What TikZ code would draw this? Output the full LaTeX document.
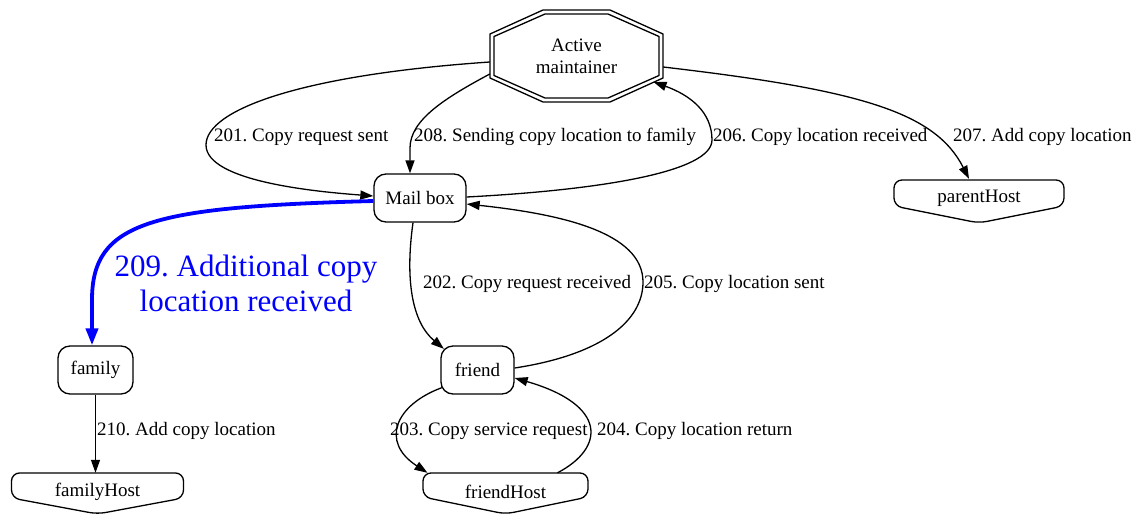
\documentclass[tikz,border=0pt]{standalone}
\usepackage{fontspec}
\setmainfont{Liberation Serif}
\usetikzlibrary{arrows.meta}
\begin{document}
\frenchspacing
\begin{tikzpicture}[x=1pt,y=-1pt,
  every node/.style={font=\fontsize{19}{22}\selectfont},
  box/.style={draw,line width=1.3pt,rounded corners=12pt,minimum height=48pt,inner sep=0pt},
  hosttext/.style={inner sep=0pt,minimum height=38pt},
  lbl/.style={anchor=west,inner sep=0pt},
  edge/.style={line width=1.3pt,-{Triangle[length=13pt,width=9pt]}},
  bedge/.style={draw=blue,line width=3.8pt,-{Triangle[length=17pt,width=12pt]}},
  shapeln/.style={line width=1.3pt,rounded corners=8pt}]
\useasboundingbox (0,0) rectangle (1138,514);

% nodes
\node[inner sep=0pt,minimum width=173pt,minimum height=92pt,align=center] (am) at (576.5,56) {Active\\maintainer};
\begin{scope}[shift={(am.center)},line width=1.3pt]
  \draw (-33.5,-46) -- (33.5,-46) -- (86.5,-22) -- (86.5,22) -- (33.5,46) -- (-33.5,46) -- (-86.5,22) -- (-86.5,-22) -- cycle;
  \draw (-31.5,-42) -- (31.5,-42) -- (82.5,-19.5) -- (82.5,19.5) -- (31.5,42) -- (-31.5,42) -- (-82.5,19.5) -- (-82.5,-19.5) -- cycle;
\end{scope}

\node[box,minimum width=92pt] (mb) at (420,198) {Mail box};
\node[box,minimum width=75pt] (fa) at (95.5,370) {family};
\node[box,minimum width=73pt] (fr) at (477.5,370) {friend};

\node[hosttext,minimum width=170pt] (ph) at (979,198) {parentHost};
\begin{scope}[shift={(ph.center)}]
  \draw[shapeln] (0,-18) -- (85,-18) -- (85,8) -- (0,25) -- (-85,8) -- (-85,-18) -- cycle;
\end{scope}
\node[hosttext,minimum width=172pt] (fh) at (97.5,492) {familyHost};
\begin{scope}[shift={(fh.center)}]
  \draw[shapeln] (0,-19) -- (86,-19) -- (86,6) -- (0,22) -- (-86,6) -- (-86,-19) -- cycle;
\end{scope}
\node[hosttext,minimum width=165pt] (frh) at (505.5,492) {friendHost};
\begin{scope}[shift={(frh.center)}]
  \draw[shapeln] (0,-19) -- (82.5,-19) -- (82.5,5) -- (0,22) -- (-82.5,5) -- (-82.5,-19) -- cycle;
\end{scope}

% edges
\draw[edge] ([yshift=-6pt]am.west) .. controls (300,75) and (206,110) .. (206,145)
  .. controls (206,182) and (320,192) .. ([yshift=2pt]mb.west);
\node[lbl] (l201) at (214,137) {201. Copy request sent};

\draw[edge] ([yshift=-18pt]am.west) .. controls (445,98) and (410,120) .. (410,148)
  -- ([xshift=-10pt]mb.north);
\node[lbl] (l208) at (414,137) {208. Sending copy location to family};

\draw[edge] ([yshift=1pt]mb.east) .. controls (600,190) and (712,172) .. (712,140)
  .. controls (712,112) and (690,95) .. ([shift={(77pt,-26pt)}]am.center);
\node[lbl] (l206) at (713,137) {206. Copy location received};

\draw[edge] ([yshift=-11pt]am.east) .. controls (860,90) and (935,112) .. ([xshift=-10pt]ph.north);
\node[lbl] (l207) at (953,137) {207. Add copy location};

\draw[bedge] ([yshift=-3pt]mb.west) .. controls (150,207) and (92,222) .. (92,300)
  -- ([xshift=-3.5pt]fa.north);
\node[text=blue,align=center,inner sep=0pt,font=\fontsize{31}{35}\selectfont] (l209) at (246,283) {209. Additional copy\\location received};

\draw[edge] ([xshift=-7pt]mb.south) .. controls (405,280) and (412,322) .. ([shift={(3.5pt,-3.5pt)}]fr.north west);
\node[lbl] (l202) at (423,284) {202. Copy request received};

\draw[edge] ([yshift=2pt]fr.east) .. controls (600,355) and (643,322) .. (643,282)
  .. controls (643,232) and (560,214) .. ([yshift=-6pt]mb.east);
\node[lbl] (l205) at (644,284) {205. Copy location sent};

\draw[edge] ([shift={(1.5pt,7pt)}]fr.south west) .. controls (395,405) and (380,442) .. ([xshift=-78pt]frh.north);
\node[lbl] (l203) at (390,431) {203. Copy service request};

\draw[edge] ([xshift=52pt]frh.north) .. controls (605,448) and (608,405) .. ([yshift=-8pt]fr.east);
\node[lbl] (l204) at (597,431) {204. Copy location return};

\draw[edge] (fa.south) -- (fa.south |- fh.north);
\node[lbl] (l210) at (97,431) {210. Add copy location};
\end{tikzpicture}
\end{document}
